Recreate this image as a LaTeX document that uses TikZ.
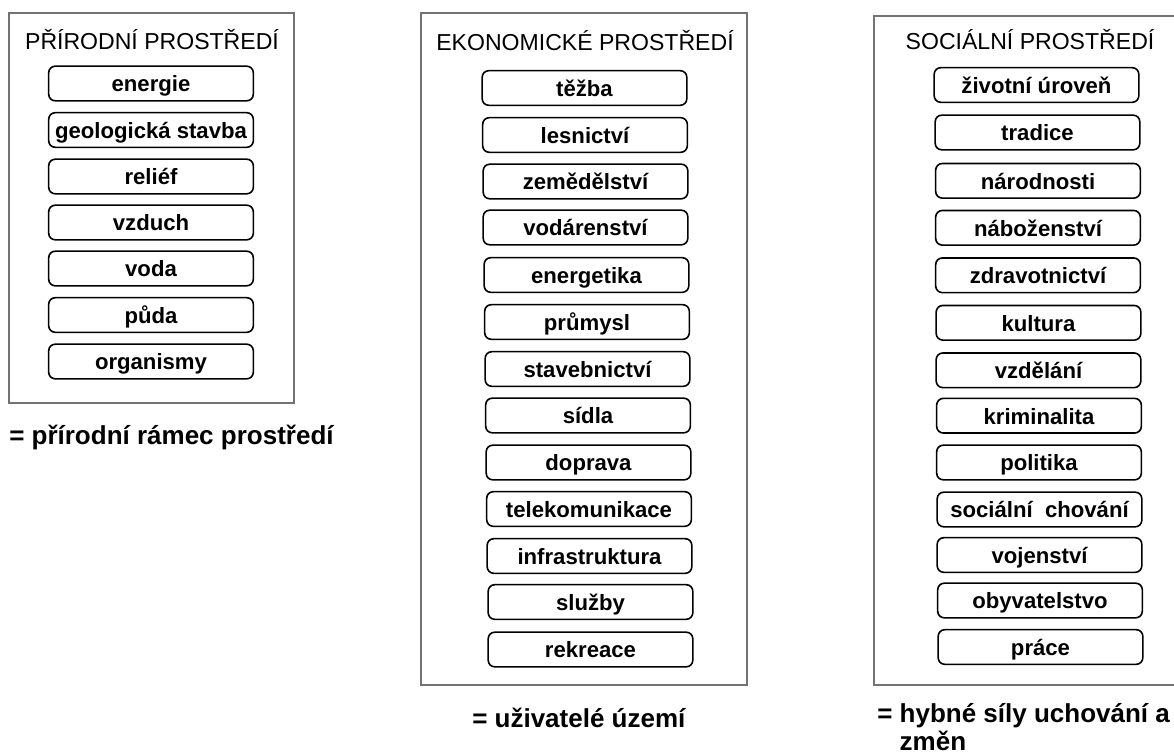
\documentclass[tikz,border=0pt]{standalone}
\usepackage{fontspec}
\setmainfont{Liberation Sans}
\usetikzlibrary{calc}

\tikzset{
  frame/.style={draw=black!55, line width=0.8pt},
  title/.style={font=\fontsize{17.3}{20}\selectfont},
  item/.style={draw, line width=1.2pt, rounded corners=5pt, minimum width=153.5pt, minimum height=26pt, inner sep=0pt, text height=15pt, text depth=2.5pt, font=\bfseries\fontsize{16.6}{19}\selectfont},
  caption/.style={font=\bfseries\fontsize{19.5}{21}\selectfont, inner sep=0pt, align=left}
}

\begin{document}
\begin{tikzpicture}[x=0.75pt, y=-0.75pt]
  \useasboundingbox [fill=white] (0, 0) rectangle (1174, 756);

  % the three frames
  \coordinate (pa) at (9, 13);
  \coordinate (pb) at (294, 403);
  \coordinate (ea) at (421, 13);
  \coordinate (eb) at (747, 685);
  \coordinate (sa) at (874, 16);
  \coordinate (sb) at (1174, 685);
  \draw [frame] (pa) rectangle (pb);
  \draw [frame] (ea) rectangle (eb);
  \draw [frame] (sa -| sb) -- (sa) -- (sa |- sb) -- (sb);

  \node [title] (pt) at (152, 40) {PŘÍRODNÍ PROSTŘEDÍ};
  \node [title] (et) at (585, 41) {EKONOMICKÉ PROSTŘEDÍ};
  \node [title] (st) at (1030, 40) {SOCIÁLNÍ PROSTŘEDÍ};

  % přírodní
  \node [item] (p1) at (151, 83.5) {energie};
  \node [item] (p2) at (151, 130) {geologická stavba};
  \node [item] (p3) at (151, 176.5) {reliéf};
  \node [item] (p4) at (151, 222.5) {vzduch};
  \node [item] (p5) at (151, 268.5) {voda};
  \node [item] (p6) at (151, 315) {půda};
  \node [item] (p7) at (151, 361.5) {organismy};

  % ekonomické
  \node [item] (e1) at (584.5, 88) {těžba};
  \node [item] (e2) at (585, 135) {lesnictví};
  \node [item] (e3) at (585.5, 181.5) {zemědělství};
  \node [item] (e4) at (585.5, 227.5) {vodárenství};
  \node [item] (e5) at (586.5, 275) {energetika};
  \node [item] (e6) at (587, 322) {průmysl};
  \node [item] (e7) at (587.5, 369) {stavebnictví};
  \node [item] (e8) at (588, 415.5) {sídla};
  \node [item] (e9) at (588.5, 462.5) {doprava};
  \node [item] (e10) at (589, 509) {telekomunikace};
  \node [item] (e11) at (589.5, 556) {infrastruktura};
  \node [item] (e12) at (590.5, 602) {služby};
  \node [item] (e13) at (590.5, 649.5) {rekreace};

  % sociální
  \node [item] (s1) at (1036.5, 85) {životní úroveň};
  \node [item] (s2) at (1037.5, 132.5) {tradice};
  \node [item] (s3) at (1038, 180.8) {národnosti};
  \node [item] (s4) at (1038, 227.8) {náboženství};
  \node [item] (s5) at (1038, 275.3) {zdravotnictví};
  \node [item] (s6) at (1038.5, 322.8) {kultura};
  \node [item] (s7) at (1038.5, 370.3) {vzdělání};
  \node [item] (s8) at (1039, 415.7) {kriminalita};
  \node [item] (s9) at (1039, 462.5) {politika};
  \node [item] (s10) at (1039.5, 509.5) {sociální\ \ chování};
  \node [item] (s11) at (1039.5, 555) {vojenství};
  \node [item] (s12) at (1040, 600.5) {obyvatelstvo};
  \node [item] (s13) at (1040.5, 647) {práce};

  % popisky
  \node [caption, anchor=west] (pc) at (9, 437) {= přírodní rámec prostředí};
  \node [caption, anchor=west] (ec) at (472, 718) {= uživatelé území};
  \node [caption, anchor=north west] (sc) at (877, 703) {= hybné síly uchování a\\\phantom{= }změn};
\end{tikzpicture}
\end{document}
